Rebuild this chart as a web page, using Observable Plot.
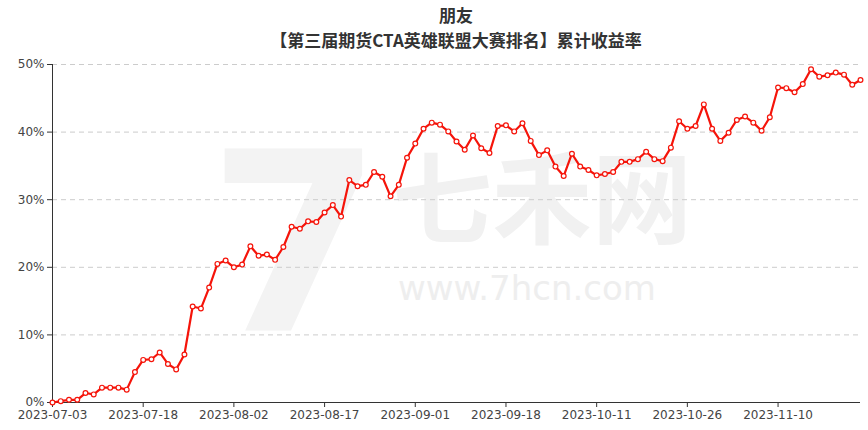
<!DOCTYPE html>
<html>
<head>
<meta charset="utf-8">
<script src="https://cdn.jsdelivr.net/npm/d3@7"></script>
<script src="https://cdn.jsdelivr.net/npm/@observablehq/plot@0.6"></script>
<style>
  body { margin: 0; background: #fff; }
  #wrap { position: relative; width: 868px; height: 430px; overflow: hidden; }
  #title { position: absolute; left: 0; top: 2px; width: 912px; text-align: center;
    font-family: "Noto Sans CJK SC", sans-serif; font-weight: bold; font-size: 17px; color: #333; line-height: 25px; }
  #chart { position: absolute; left: 0; top: 48px; }
  .wm { position: absolute; color: #f1f1f1; font-family: "Noto Sans CJK SC", sans-serif; white-space: nowrap; }
</style>
</head>
<body>
<div id="wrap">
  <div class="wm" style="left:208px; top:120px; font-size:250px; font-weight:bold; font-family:'DejaVu Sans'; line-height:1; color:#f3f3f3;">7</div>
  <div class="wm" style="left:392px; top:128px; font-size:100px; font-weight:bold; line-height:1.3;">七禾网</div>
  <div class="wm" style="left:398px; top:268px; font-size:34px; font-family:'DejaVu Sans'; color:#eeeeee;">www.7hcn.com</div>
  <div id="title">朋友<br>【第三届期货CTA英雄联盟大赛排名】累计收益率</div>
  <div id="chart"></div>
</div>
<script>
// Trading days (month -> days)
const julDays = [3,4,5,6,7,10,11,12,13,14,17,18,19,20,21,24,25,26,27,28,31];
const augDays = [1,2,3,4,7,8,9,10,11,14,15,16,17,18,21,22,23,24,25,28,29,30,31];
const sepDays = [1,4,5,6,7,8,11,12,13,14,15,18,19,20,21,22,25,26,27,28];
const octDays = [9,10,11,12,13,16,17,18,19,20,23,24,25,26,27,30,31];
const novDays = [1,2,3,6,7,8,9,10,13,14,15,16,17,20,21,22,23,24];

// Cumulative return (%)
const returns = [
  0.0, 0.2, 0.4, 0.4, 1.4, 1.2, 2.2, 2.2, 2.2, 1.9,
  4.5, 6.3, 6.4, 7.4, 5.7, 4.9, 7.1, 14.2, 13.9, 17.0,
  20.5, 21.0, 20.0, 20.4, 23.1, 21.7, 21.9, 21.1, 23.0, 26.0,
  25.7, 26.8, 26.7, 28.1, 29.2, 27.5, 32.9, 32.0, 32.2, 34.1,
  33.4, 30.5, 32.2, 36.2, 38.3, 40.5, 41.4, 41.1, 40.1, 38.6,
  37.4, 39.5, 37.6, 36.9, 40.9, 41.0, 40.1, 41.3, 38.7, 36.6,
  37.3, 34.9, 33.5, 36.8, 34.9, 34.4, 33.6, 33.8, 34.1, 35.6,
  35.6, 36.0, 37.1, 36.0, 35.7, 37.7, 41.6, 40.5, 40.9, 44.1,
  40.5, 38.7, 39.9, 41.8, 42.3, 41.4, 40.2, 42.2, 46.6, 46.5,
  45.9, 47.1, 49.3, 48.2, 48.4, 48.8, 48.5, 47.0, 47.7
];

const yTicks = [0, 10, 20, 30, 40, 50];

const pad = n => String(n).padStart(2, "0");
const dates = [
  ...julDays.map(d => `2023-07-${pad(d)}`),
  ...augDays.map(d => `2023-08-${pad(d)}`),
  ...sepDays.map(d => `2023-09-${pad(d)}`),
  ...octDays.map(d => `2023-10-${pad(d)}`),
  ...novDays.map(d => `2023-11-${pad(d)}`)
];
const xTicks = dates.filter((d, i) => i % 11 === 0 && i < 98);
const data = dates.map((d, i) => ({date: d, value: returns[i]}));

const red = "#f5140a";
const chart = Plot.plot({
  width: 868,
  height: 382,
  marginLeft: 52,
  marginRight: 8,
  marginTop: 16,
  marginBottom: 28,
  style: {background: "transparent", fontFamily: "DejaVu Sans, sans-serif", fontSize: "12px", color: "#444"},
  x: {type: "point", domain: dates, padding: 0, round: false, label: null},
  y: {domain: [0, 50], label: null},
  marks: [
    Plot.gridY(yTicks.filter(t => t > 0), {stroke: "#cccccc", strokeOpacity: 1, strokeDasharray: "5,4"}),
    Plot.axisY({ticks: yTicks, tickFormat: d => d + "%", tickSize: 5, tickPadding: 3, label: null, fontSize: 12, stroke: "#333"}),
    Plot.axisX({ticks: xTicks, tickSize: 5, tickPadding: 3, label: null, fontSize: 12, stroke: "#333"}),
    Plot.ruleX([dates[0]], {stroke: "#333"}),
    Plot.ruleY([0], {stroke: "#333"}),
    Plot.line(data, {x: "date", y: "value", stroke: red, strokeWidth: 2.2}),
    Plot.dot(data, {x: "date", y: "value", r: 2.4, fill: "white", stroke: red, strokeWidth: 1.2})
  ]
});
document.getElementById("chart").appendChild(chart);
</script>
</body>
</html>
